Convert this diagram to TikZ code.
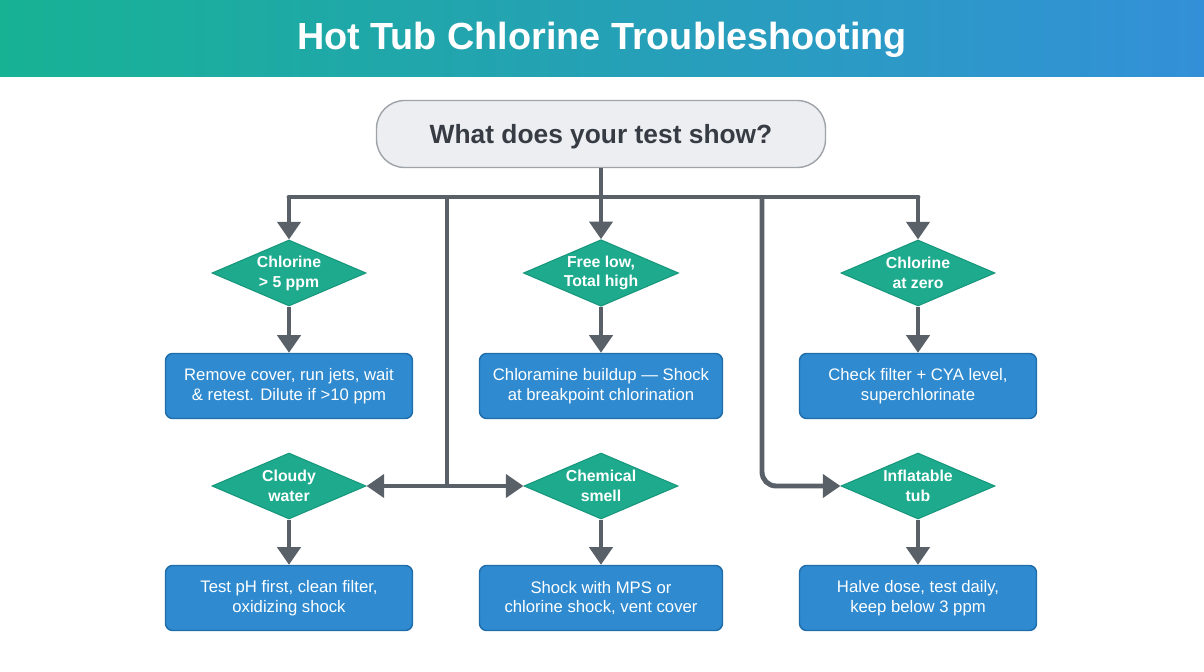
\documentclass[tikz,border=0pt]{standalone}
\usepackage{fontspec}
\setmainfont{Liberation Sans}
\usetikzlibrary{arrows.meta,shapes.geometric}

\definecolor{barL}{HTML}{17B294}
\definecolor{barR}{HTML}{3390D8}
\definecolor{qfill}{HTML}{ECEEF1}
\definecolor{qline}{HTML}{9EA3A9}
\definecolor{qtext}{HTML}{373C44}
\definecolor{dfill}{HTML}{1DAA8D}
\definecolor{dline}{HTML}{17977C}
\definecolor{bfill}{HTML}{2F8ACF}
\definecolor{bline}{HTML}{1F6DAA}
\definecolor{wire}{HTML}{596068}

\begin{document}
\begin{tikzpicture}[x=0.02cm,y=-0.02cm,
  every node/.style={font=\fontsize{9.5}{11.3}\selectfont},
  start/.style={rectangle, rounded corners=16pt, draw=qline, line width=0.8pt, fill=qfill,
                minimum width=449*0.02cm, minimum height=67*0.02cm, text height=14pt, text depth=3pt,
                font=\fontsize{15}{17}\selectfont\bfseries, text=qtext},
  dec/.style={diamond, draw=dline, line width=0.6pt, fill=dfill, text=white, align=center,
              aspect=2.33, inner sep=0pt, minimum width=154*0.02cm, minimum height=66*0.02cm,
              font=\fontsize{9}{11.3}\selectfont\bfseries},
  act/.style={rectangle, rounded corners=4pt, draw=bline, line width=0.8pt, fill=bfill,
              text=white, align=center, minimum width=247*0.02cm, minimum height=65*0.02cm},
  line/.style={draw=wire, line width=2.8pt},
  link/.style={line, -{Triangle[length=10pt,width=13pt]}}]

% title band
\shade[left color=barL, right color=barR] (0,0) rectangle (1204,77);
\node[text=white, font=\fontsize{21.5}{24}\selectfont\bfseries] (title) at (602,40) {Hot Tub Chlorine Troubleshooting};
\useasboundingbox (0,0) rectangle (1204,672);

\node[start] (q) at (601,134) {What does your test show?};

\node[dec] (hi)   at (289,273) {Chlorine\\> 5 ppm};
\node[dec] (fl)   at (601,273) {Free low,\\Total high};
\node[dec] (zero) at (918,273) {Chlorine\\at zero};
\node[dec] (cl)   at (289,486) {Cloudy\\water};
\node[dec] (sm)   at (601,486) {Chemical\\smell};
\node[dec] (inf)  at (918,486) {Inflatable\\tub};

\node[act] (a1) at (289,386) {Remove cover, run jets, wait\\\& retest. Dilute if >10 ppm};
\node[act, minimum width=243*0.02cm] (a2) at (601,386) {Chloramine buildup — Shock\\at breakpoint chlorination};
\node[act, minimum width=237*0.02cm] (a3) at (918,386) {Check filter + CYA level,\\superchlorinate};
\node[act] (a4) at (289,598) {Test pH first, clean filter,\\oxidizing shock};
\node[act, minimum width=243*0.02cm] (a5) at (601,598) {Shock with MPS or\\chlorine shock, vent cover};
\node[act, minimum width=237*0.02cm] (a6) at (918,598) {Halve dose, test daily,\\keep below 3 ppm};

\coordinate (hub) at (601,197);
\coordinate (bl)  at (289,197);
\coordinate (br)  at (918,197);
\coordinate (tl)  at (447,197);
\coordinate (tr)  at (762,197);
\coordinate (ml)  at (447,486);

\draw[line] (q) -- (hub);
\draw[line, line cap=round] (bl) -- (br);
\draw[link] (bl) -- (hi);
\draw[link] (hub) -- (fl);
\draw[link] (br) -- (zero);
\draw[line] (tl) -- (ml);
\draw[link] (ml) -- (cl);
\draw[link] (ml) -- (sm);
\draw[link, rounded corners=8pt] (tr) |- (inf);

\draw[link] (hi) -- (a1);
\draw[link] (fl) -- (a2);
\draw[link] (zero) -- (a3);
\draw[link] (cl) -- (a4);
\draw[link] (sm) -- (a5);
\draw[link] (inf) -- (a6);
\end{tikzpicture}
\end{document}
